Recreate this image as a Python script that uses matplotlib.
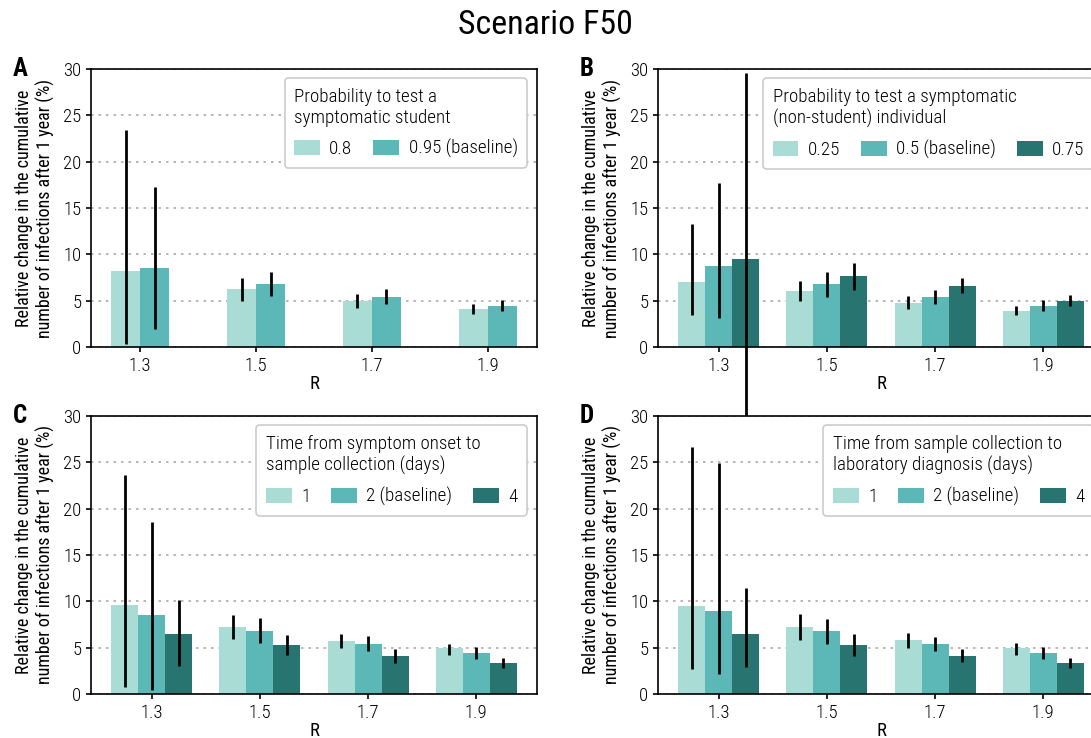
import matplotlib
matplotlib.use("Agg")
import matplotlib.pyplot as plt
import numpy as np

plt.rcParams['font.family'] = ['Roboto Condensed', 'Roboto', 'DejaVu Sans']
plt.rcParams['font.weight'] = 'light'

r_labels = ['1.3', '1.5', '1.7', '1.9']
light, mid, dark = '#a8dcd5', '#5cb8b6', '#277471'

# panel A: probability to test a symptomatic student
a_names = ['0.8', '0.95 (baseline)']
a_vals = [[8.24, 6.29, 5.00, 4.14],
          [8.56, 6.83, 5.43, 4.46]]
a_lo = [[0.32, 5.00, 4.24, 3.56],
        [1.94, 5.47, 4.64, 3.85]]
a_hi = [[23.45, 7.41, 5.72, 4.68],
        [17.30, 8.06, 6.22, 5.07]]

# panel B: probability to test a symptomatic (non-student) individual
b_names = ['0.25', '0.5 (baseline)', '0.75']
b_vals = [[7.05, 6.08, 4.78, 3.92],
          [8.78, 6.83, 5.43, 4.46],
          [9.53, 7.70, 6.62, 5.00]]
b_lo = [[3.49, 4.93, 4.10, 3.42],
        [3.13, 5.43, 4.64, 3.85],
        [-12.0, 6.19, 5.79, 4.39]]
b_hi = [[13.27, 7.16, 5.50, 4.46],
        [17.66, 8.13, 6.15, 5.07],
        [29.53, 9.10, 7.45, 5.61]]

# panel C: time from symptom onset to sample collection
c_names = ['1', '2 (baseline)', '4']
c_vals = [[9.63, 7.26, 5.75, 4.92],
          [8.55, 6.83, 5.43, 4.46],
          [6.50, 5.32, 4.13, 3.38]]
c_lo = [[0.79, 5.93, 4.99, 4.20],
        [0.43, 5.50, 4.60, 3.81],
        [3.05, 4.20, 3.38, 2.77]]
c_hi = [[23.60, 8.55, 6.50, 5.39],
        [18.58, 8.16, 6.22, 5.03],
        [10.17, 6.40, 4.81, 3.92]]

# panel D: time from sample collection to laboratory diagnosis
d_names = ['1', '2 (baseline)', '4']
d_vals = [[9.52, 7.26, 5.86, 4.92],
          [8.98, 6.83, 5.43, 4.46],
          [6.50, 5.32, 4.13, 3.38]]
d_lo = [[2.69, 5.79, 4.99, 4.20],
        [2.19, 5.43, 4.60, 3.81],
        [2.91, 4.10, 3.41, 2.84]]
d_hi = [[26.70, 8.66, 6.61, 5.46],
        [24.97, 8.08, 6.14, 5.03],
        [11.46, 6.50, 4.85, 3.88]]

fig = plt.figure(figsize=(10.91, 7.38), dpi=100)
fig.text(0.5, 0.9665, 'Scenario F50', ha='center', va='center', fontsize=24.5,
         fontweight='normal')

W, H = 1091., 738.
def make_ax(x0, y_top, y_bot):
    return fig.add_axes([x0 / W, 1 - y_bot / H, 446 / W, (y_bot - y_top) / H])

def panel(ax, letter, title, names, vals, lo, hi, colors):
    n = len(names)
    width = 0.25
    x = np.arange(len(r_labels))
    for i in range(n):
        off = (i - (n - 1) / 2) * width
        ax.bar(x + off, vals[i], width, color=colors[i], label=names[i], zorder=2)
        ax.vlines(x + off, lo[i], hi[i], color='black', lw=2, zorder=3, clip_on=False)
    ax.set_ylim(0, 30)
    ax.set_yticks(range(0, 31, 5))
    ax.set_xticks(x)
    ax.set_xticklabels(r_labels)
    ax.set_xlabel('R', fontsize=13.5, labelpad=0)
    ax.set_ylabel('Relative change in the cumulative\nnumber of infections after 1 year (%)',
                  fontsize=13, labelpad=6)
    ax.tick_params(labelsize=13.5, width=1.2)
    ax.yaxis.grid(True, linestyle=(0, (1.5, 3)), color='#aaaaaa', lw=1.2)
    ax.set_axisbelow(True)
    for s in ax.spines.values():
        s.set_color('black')
        s.set_linewidth(1.2)
    leg = ax.legend(title=title, ncol=n, loc='upper right', fontsize=13.7,
                    title_fontsize=13.7, alignment='left', fancybox=True,
                    edgecolor='#cccccc', framealpha=1, handlelength=1.35,
                    handleheight=0.85, columnspacing=1.1, handletextpad=0.5,
                    borderpad=0.5, labelspacing=0.65, borderaxespad=0,
                    bbox_to_anchor=(0.978, 0.966))
    leg.get_frame().set_linewidth(1.2)
    ax.text(-0.175, 1.0, letter, transform=ax.transAxes, fontsize=18,
            fontweight='bold', va='center', ha='left')

axA = make_ax(91, 69, 347)
axB = make_ax(658, 69, 347)
axC = make_ax(91, 416, 694)
axD = make_ax(658, 416, 694)

panel(axA, 'A', 'Probability to test a\nsymptomatic student', a_names, a_vals, a_lo, a_hi, [light, mid])
panel(axB, 'B', 'Probability to test a symptomatic\n(non-student) individual', b_names, b_vals, b_lo, b_hi, [light, mid, dark])
panel(axC, 'C', 'Time from symptom onset to\nsample collection (days)', c_names, c_vals, c_lo, c_hi, [light, mid, dark])
panel(axD, 'D', 'Time from sample collection to\nlaboratory diagnosis (days)', d_names, d_vals, d_lo, d_hi, [light, mid, dark])

fig.savefig('out.png', dpi=100)
